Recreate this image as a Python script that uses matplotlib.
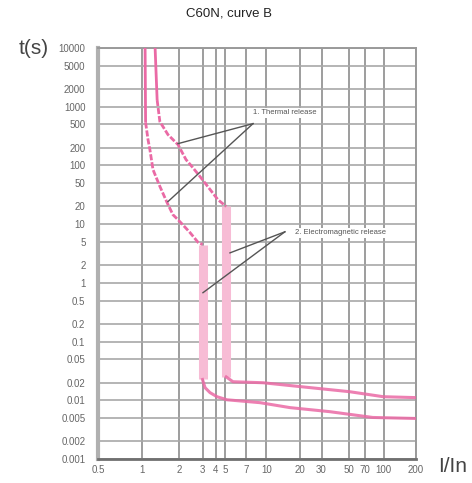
import numpy as np
import matplotlib
matplotlib.use("Agg")
import matplotlib.pyplot as plt
import matplotlib.ticker as mticker

plt.rcParams["font.family"] = ["Liberation Sans", "DejaVu Sans"]

# tick values
x_ticks = [0.5, 1, 2, 3, 4, 5, 7, 10, 20, 30, 50, 70, 100, 200]
x_tick_labels = ["0.5", "1", "2", "3", "4", "5", "7", "10", "20", "30", "50", "70", "100", "200"]
y_ticks = [10000, 5000, 2000, 1000, 500, 200, 100, 50, 20, 10, 5, 2, 1,
           0.5, 0.2, 0.1, 0.05, 0.02, 0.01, 0.005, 0.002, 0.001]
y_tick_labels = ["10000", "5000", "2000", "1000", "500", "200", "100", "50", "20", "10",
                 "5", "2", "1", "0.5", "0.2", "0.1", "0.05", "0.02", "0.01", "0.005",
                 "0.002", "0.001"]

# lower / left boundary of the tripping band (I/In, t in s)
min_I = [1.06, 1.07, 1.12, 1.16, 1.23, 1.40, 1.60, 1.79, 2.04, 2.42, 2.78, 3.0,
         3.0, 3.17, 3.53, 4.12, 5.16, 9.0, 16.2, 35, 81, 200]
min_t = [10000, 540, 275, 186, 85, 44, 23.5, 14.5, 11, 7.2, 4.9, 4.5,
         0.0226, 0.0164, 0.0135, 0.0115, 0.0102, 0.0091, 0.0075, 0.0064, 0.0051, 0.0049]
min_mag = (11, 12)   # vertical (magnetic) part

# upper / right boundary
max_I = [1.28, 1.33, 1.40, 1.63, 1.97, 2.26, 2.51, 2.87, 3.53, 4.22, 5.1,
         5.1, 5.69, 9.46, 19.9, 51, 99, 200]
max_t = [10000, 1300, 557, 335, 226, 126, 95, 65, 39, 26, 20,
         0.025, 0.0207, 0.0199, 0.0171, 0.014, 0.0115, 0.0111]
max_mag = (10, 11)

# annotation anchors (I/In, t)
thermal_text = (7.95, 790)
thermal_from = (7.95, 515)
thermal_to = [(1.97, 235), (1.63, 24.2)]
magnetic_text = (17.9, 7.1)
magnetic_from = (14.6, 7.4)
magnetic_to = [(5.42, 3.24), (3.03, 0.68)]

# the printed x axis is not a clean log scale: tick positions
x_scale_pos = [0, 44, 80.8, 104.5, 117.8, 127, 147.7, 168.2, 202.4, 223.5, 250.7, 267, 285.8, 318]
_logk = np.log10(x_ticks)


def _fwd(x):
    x = np.asarray(x, dtype=float)
    return np.interp(np.log10(np.clip(x, 1e-9, None)), _logk, x_scale_pos)


def _inv(p):
    return 10 ** np.interp(np.asarray(p, dtype=float), x_scale_pos, _logk)


PINK = "#ea6aa5"
PINK_LIGHT = "#f7bcd5"

fig = plt.figure(figsize=(4.72, 4.83), dpi=100)
ax = fig.add_axes([98 / 472, 24 / 483, 318 / 472, 411 / 483])

ax.set_xscale("function", functions=(_fwd, _inv))
ax.set_yscale("log")
ax.set_xlim(0.5, 200)
ax.set_ylim(0.001, 10000)

ax.set_xticks(x_ticks)
ax.set_xticklabels(x_tick_labels)
ax.set_yticks(y_ticks)
ax.set_yticklabels(y_tick_labels)
ax.xaxis.set_minor_locator(mticker.NullLocator())
ax.yaxis.set_minor_locator(mticker.NullLocator())
ax.tick_params(axis="both", length=0, labelsize=7, labelcolor="#666666")
ax.tick_params(axis="y", pad=9)
ax.tick_params(axis="x", pad=4)

ax.grid(True, axis="x", color="#8c8c8c", linewidth=1.2)
ax.grid(True, axis="y", color="#a8a8a8", linewidth=1.2)
ax.set_axisbelow(True)
for side in ["top", "right"]:
    ax.spines[side].set_color("#9a9a9a")
    ax.spines[side].set_linewidth(1.4)
ax.spines["left"].set_color("#b0b0b0")
ax.spines["left"].set_linewidth(3)
ax.spines["bottom"].set_color("#707070")
ax.spines["bottom"].set_linewidth(2)


def draw_curve(I, t, mag):
    a, b = mag
    ax.plot(I[:2], t[:2], color=PINK, linewidth=2.0, solid_capstyle="butt", zorder=3)
    ax.plot(I[1:a + 1], t[1:a + 1], color=PINK, linewidth=2.0, dashes=(2.2, 0.7), zorder=3)
    ax.plot(I[a:b + 1], t[a:b + 1], color=PINK_LIGHT, linewidth=6.5, solid_capstyle="butt", zorder=2)
    ax.plot(I[b:], t[b:], color=PINK, linewidth=2.2, alpha=0.85, zorder=3)


draw_curve(min_I, min_t, min_mag)
draw_curve(max_I, max_t, max_mag)

for target in thermal_to:
    ax.plot([thermal_from[0], target[0]], [thermal_from[1], target[1]],
            color="#555555", linewidth=1, zorder=4)
for target in magnetic_to:
    ax.plot([magnetic_from[0], target[0]], [magnetic_from[1], target[1]],
            color="#555555", linewidth=1, zorder=4)

ax.text(thermal_text[0], thermal_text[1], "1. Thermal release", fontsize=5.5,
        color="#555555", ha="left", va="center", zorder=5,
        bbox=dict(facecolor="white", edgecolor="none", pad=1))
ax.text(magnetic_text[0], magnetic_text[1], "2. Electromagnetic release", fontsize=5.5,
        color="#555555", ha="left", va="center", zorder=5, clip_on=False,
        bbox=dict(facecolor="white", edgecolor="none", pad=1))

fig.text(229 / 472, 1 - 13 / 483, "C60N, curve B", fontsize=9.5, color="#222222",
         ha="center", va="center")
fig.text(34 / 472, 1 - 48 / 483, "t(s)", fontsize=15, color="#444444",
         ha="center", va="center")
fig.text(453 / 472, 1 - 467 / 483, "I/In", fontsize=15, color="#444444",
         ha="center", va="center")

fig.savefig("out.png", dpi=100)
